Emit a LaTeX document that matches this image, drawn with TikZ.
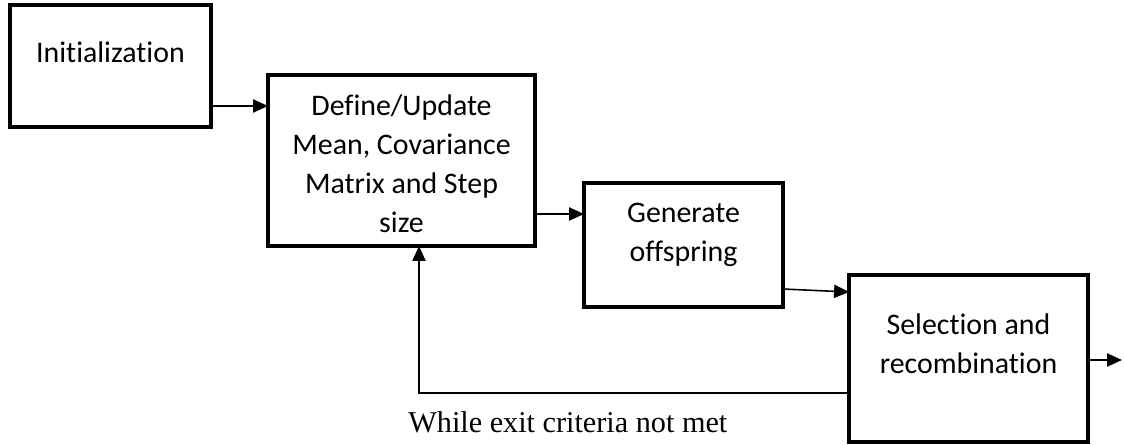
\documentclass[tikz,border=0pt]{standalone}
\usepackage{fontspec}
\setmainfont{Carlito}[Ligatures=NoCommon]
\newfontfamily\serifnote{Liberation Serif}
\usetikzlibrary{arrows.meta}

\tikzset{
    blk/.style={draw, line width=2pt, inner sep=0pt, outer sep=0pt, align=flush center,
        anchor=north west, font=\fontsize{17}{22.2}\selectfont},
    arr/.style={-{Triangle[length=8.5pt,width=7.5pt]}, line width=0.9pt},
}

\begin{document}
\begin{tikzpicture}
            \useasboundingbox (0,0) rectangle (22.48,-8.88);

            % the four stages, text sits near the top of each box
            \node[blk, text width=4.02cm, text height=1.14cm, text depth=1.30cm] (init) at (0.20,-0.10) {Initialization};
            \node[blk, text width=5.34cm, text height=0.80cm, text depth=2.62cm] (update) at (5.36,-1.50) {Define/Update\\Mean, Covariance\\Matrix and Step\\size};
            \node[blk, text width=3.98cm, text height=0.78cm, text depth=1.70cm] (offspring) at (11.68,-3.66) {Generate\\offspring};
            \node[blk, text width=4.78cm, text height=1.18cm, text depth=2.16cm] (select) at (16.98,-5.50) {Selection and\\recombination};

            \coordinate (exit) at (22.44,-7.20);

            % forward arrows
            \draw[arr] (init.east |- 0,-2.12) -- (update.west |- 0,-2.12);
            \draw[arr] (update.east |- 0,-4.28) -- (offspring.west |- 0,-4.28);
            \draw[arr] (offspring.east |- 0,-5.78) -- (select.west |- 0,-5.84);
            \draw[arr] (select.east |- exit) -- (exit);

            % loop back
            \draw[arr, line width=0.8pt] (select.west |- 0,-7.86) -| (8.38,0 |- update.south);
            \node[anchor=base west, inner sep=0pt, font=\serifnote\fontsize{17.2}{20}\selectfont] (loop) at (8.16,-8.64) {While exit criteria not met};
\end{tikzpicture}
\end{document}
